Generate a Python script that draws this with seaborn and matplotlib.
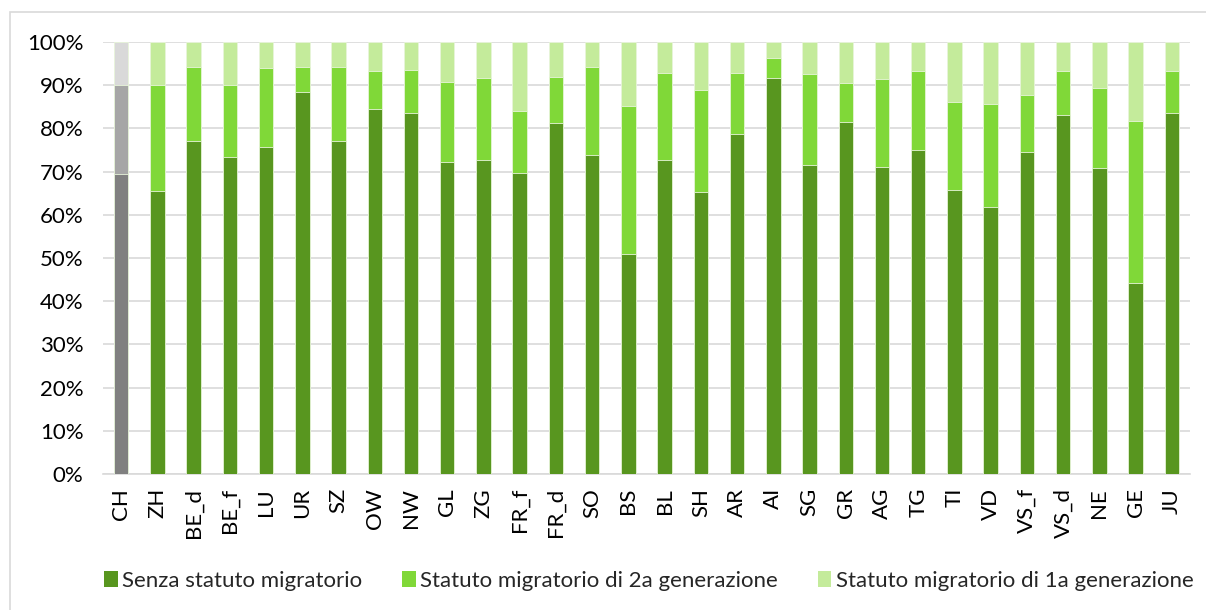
import matplotlib
matplotlib.use("Agg")
import numpy as np
import pandas as pd
import seaborn as sns
import matplotlib.pyplot as plt
from matplotlib.patches import Patch, Rectangle
from matplotlib.ticker import PercentFormatter

# Data (shares in %)
CANTONS = ["CH", "ZH", "BE_d", "BE_f", "LU", "UR", "SZ", "OW", "NW", "GL", "ZG",
           "FR_f", "FR_d", "SO", "BS", "BL", "SH", "AR", "AI", "SG", "GR", "AG",
           "TG", "TI", "VD", "VS_f", "VS_d", "NE", "GE", "JU"]
SENZA = [69.4, 65.5, 77.0, 73.3, 75.8, 88.5, 77.0, 84.4, 83.5, 72.2, 72.6,
         69.6, 81.2, 73.9, 51.0, 72.6, 65.2, 78.6, 91.6, 71.5, 81.4, 71.0,
         75.0, 65.7, 61.7, 74.6, 83.1, 70.8, 44.2, 83.5]
GEN2 = [20.6, 24.5, 17.3, 16.7, 18.2, 5.8, 17.3, 9.0, 10.1, 18.6, 19.0,
        14.4, 10.6, 20.2, 34.1, 20.3, 23.6, 14.3, 4.8, 21.0, 9.1, 20.4,
        18.4, 20.5, 23.9, 13.1, 10.2, 18.5, 37.6, 9.9]
GEN1 = [10.0, 10.0, 5.7, 10.0, 6.0, 5.7, 5.7, 6.6, 6.4, 9.2, 8.4,
        16.0, 8.2, 5.9, 14.9, 7.1, 11.2, 7.1, 3.6, 7.5, 9.5, 8.6,
        6.6, 13.8, 14.4, 12.3, 6.7, 10.7, 18.2, 6.6]
LEGEND_LABELS = ["Senza statuto migratorio",
                 "Statuto migratorio di 2a generazione",
                 "Statuto migratorio di 1a generazione"]

GREENS = ["#58961F", "#80D838", "#C4EB9B"]
GREYS = ["#808080", "#A6A6A6", "#D9D9D9"]

df = pd.DataFrame({"canton": CANTONS, "senza": SENZA, "gen2": GEN2, "gen1": GEN1})
df["lvl1"] = df["senza"]
df["lvl2"] = df["senza"] + df["gen2"]
df["lvl3"] = df["lvl2"] + df["gen1"]

sns.set_style("white")
plt.rcParams["font.family"] = ["Lato", "DejaVu Sans"]

fig = plt.figure(figsize=(12.06, 6.10), dpi=100)
ax = fig.add_axes([103 / 1206, 136 / 610, 1087 / 1206, 432 / 610])

# stacked bars drawn as layered cumulative bars (top level first)
for level, idx in [("lvl3", 2), ("lvl2", 1), ("lvl1", 0)]:
    pal = [GREYS[idx] if c == "CH" else GREENS[idx] for c in CANTONS]
    sns.barplot(data=df, x="canton", y=level, hue="canton", palette=pal,
                legend=False, width=0.4, saturation=1, ax=ax, zorder=3,
                edgecolor="#E8F5DA", linewidth=0.6)

ax.set_ylim(0, 100)
ax.set_xlim(-0.5, len(CANTONS) - 0.5)
ax.set_yticks(np.arange(0, 101, 10))
ax.yaxis.set_major_formatter(PercentFormatter(decimals=0))
ax.grid(axis="y", color="#D9D9D9", linewidth=1.2, zorder=0)
ax.set_axisbelow(True)
ax.set_xlabel("")
ax.set_ylabel("")
for s in ["top", "right", "left"]:
    ax.spines[s].set_visible(False)
ax.spines["bottom"].set_color("#D9D9D9")
ax.spines["bottom"].set_linewidth(1.2)
ax.tick_params(axis="both", length=0, labelsize=16, colors="#000000")
ax.tick_params(axis="y", pad=14)
ax.tick_params(axis="x", labelrotation=90, pad=10)

handles = [Patch(facecolor=c, edgecolor="none") for c in GREENS]
fig.legend(handles, LEGEND_LABELS, loc="center", bbox_to_anchor=(0.538, 0.048),
           ncol=3, frameon=False, fontsize=16, handlelength=0.6, handleheight=0.75,
           handletextpad=0.2, columnspacing=1.8)

# light outer frame of the chart area
fig.patches.append(Rectangle((10 / 1206, -0.02), 1.05, 1 - 12 / 610 + 0.02,
                             transform=fig.transFigure, fill=False,
                             edgecolor="#D9D9D9", linewidth=1.2))

fig.savefig("out.png", dpi=100)
